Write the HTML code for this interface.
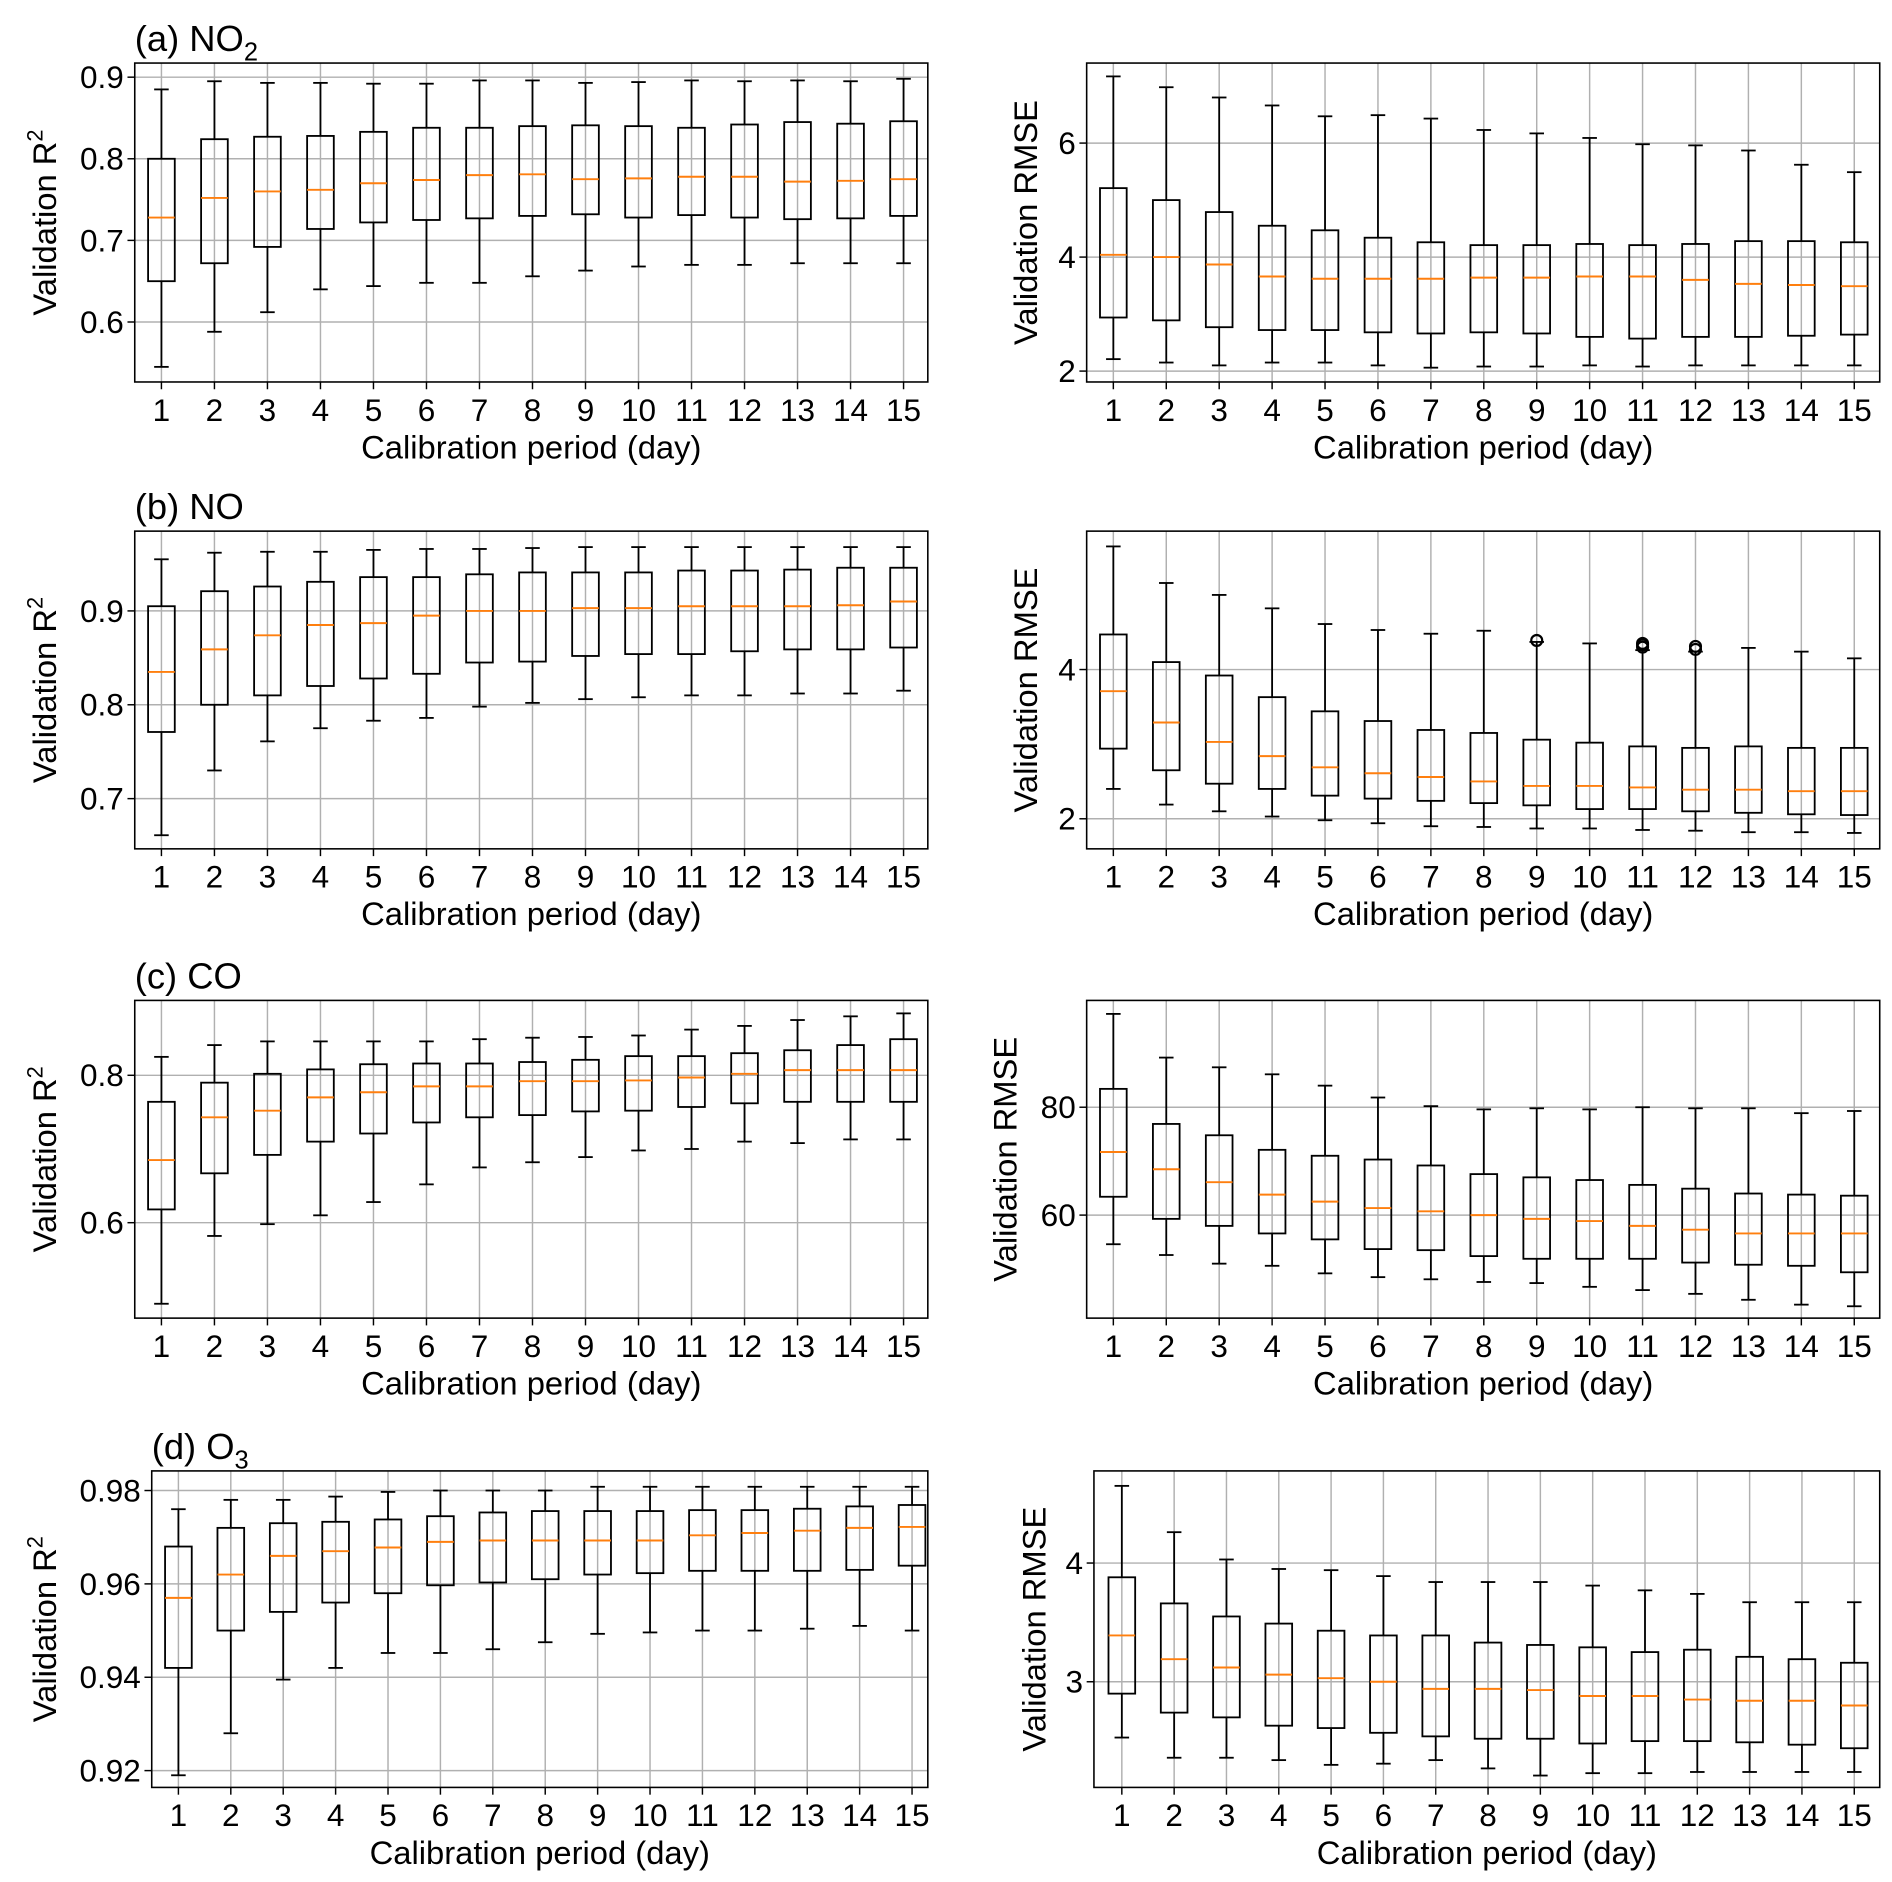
<!DOCTYPE html>
<html><head><meta charset="utf-8"><style>
html,body{margin:0;padding:0;background:#fff;}
svg{display:block;font-family:"Liberation Sans",Arial,sans-serif;}
</style></head><body>
<svg id="fig" width="1892" height="1882" viewBox="0 0 1560 1552" xmlns="http://www.w3.org/2000/svg"></svg>
<script>
const categories = [1,2,3,4,5,6,7,8,9,10,11,12,13,14,15];
// each series: [low whisker, q1, median, q3, high whisker] per category
const no2R2 = [[.545,.65,.728,.80,.885],[.588,.672,.752,.824,.895],[.612,.692,.760,.827,.893],[.640,.714,.762,.828,.893],[.644,.722,.770,.833,.892],[.648,.725,.774,.838,.892],[.648,.727,.780,.838,.896],[.656,.730,.781,.840,.896],[.663,.732,.775,.841,.893],[.668,.728,.776,.840,.894],[.670,.731,.778,.838,.896],[.670,.728,.778,.842,.895],[.672,.726,.772,.845,.896],[.672,.727,.773,.843,.895],[.672,.730,.775,.846,.898]];
const no2RMSE = [[2.21,2.94,4.04,5.21,7.17],[2.15,2.89,4.0,5.0,6.98],[2.1,2.77,3.87,4.79,6.8],[2.15,2.72,3.66,4.55,6.66],[2.15,2.72,3.62,4.47,6.47],[2.1,2.68,3.62,4.34,6.49],[2.06,2.66,3.62,4.26,6.43],[2.08,2.68,3.64,4.21,6.23],[2.08,2.66,3.64,4.21,6.17],[2.1,2.6,3.66,4.23,6.09],[2.08,2.57,3.66,4.21,5.98],[2.1,2.6,3.6,4.23,5.96],[2.1,2.6,3.53,4.28,5.87],[2.1,2.62,3.51,4.28,5.62],[2.1,2.64,3.49,4.26,5.49]];
const noR2 = [[.661,.771,.835,.905,.955],[.730,.80,.859,.921,.962],[.761,.81,.874,.926,.963],[.775,.82,.885,.931,.963],[.783,.828,.887,.936,.965],[.786,.833,.895,.936,.966],[.798,.845,.90,.939,.966],[.802,.846,.90,.941,.967],[.806,.852,.903,.941,.968],[.808,.854,.903,.941,.968],[.81,.854,.905,.943,.968],[.81,.857,.905,.943,.968],[.812,.859,.905,.944,.968],[.812,.859,.906,.946,.968],[.815,.861,.91,.946,.968]];
const noRMSE = [[2.40,2.94,3.71,4.47,5.65],[2.19,2.65,3.29,4.1,5.16],[2.1,2.47,3.03,3.92,5.0],[2.03,2.40,2.84,3.63,4.82],[1.98,2.31,2.69,3.44,4.61],[1.94,2.27,2.61,3.31,4.53],[1.9,2.24,2.56,3.19,4.48],[1.89,2.21,2.5,3.15,4.52],[1.87,2.18,2.44,3.06,4.37],[1.87,2.13,2.44,3.02,4.35],[1.85,2.13,2.42,2.97,4.26],[1.84,2.10,2.39,2.95,4.24],[1.82,2.08,2.39,2.97,4.29],[1.82,2.06,2.37,2.95,4.24],[1.81,2.05,2.37,2.95,4.15]];
const noRMSEOutliers = [[],[],[],[],[],[],[],[],[4.39],[],[4.30,4.33,4.35],[4.27,4.31],[],[],[]];
const coR2 = [[.49,.618,.685,.764,.825],[.582,.667,.743,.79,.841],[.598,.692,.752,.802,.846],[.61,.71,.770,.808,.846],[.628,.721,.777,.815,.846],[.652,.736,.785,.816,.846],[.675,.743,.785,.816,.849],[.682,.746,.792,.818,.851],[.689,.751,.792,.821,.852],[.698,.752,.793,.826,.854],[.70,.757,.797,.826,.862],[.71,.762,.802,.83,.867],[.708,.764,.807,.834,.875],[.713,.764,.807,.841,.88],[.713,.764,.807,.849,.884]];
const coRMSE = [[54.6,63.4,71.7,83.4,97.3],[52.6,59.3,68.5,76.9,89.2],[51.0,58.0,66.1,74.8,87.4],[50.6,56.6,63.8,72.1,86.1],[49.2,55.5,62.5,71.0,84.0],[48.5,53.7,61.3,70.3,81.8],[48.1,53.5,60.7,69.2,80.2],[47.6,52.4,60.0,67.6,79.6],[47.4,51.9,59.3,67.0,79.8],[46.7,51.9,58.9,66.5,79.6],[46.1,51.9,58.0,65.6,80.0],[45.4,51.2,57.3,64.9,79.8],[44.3,50.8,56.6,64.0,79.8],[43.4,50.6,56.6,63.8,78.9],[43.1,49.4,56.6,63.6,79.3]];
const o3R2 = [[.919,.942,.957,.968,.976],[.928,.950,.962,.972,.978],[.9395,.954,.966,.973,.978],[.942,.956,.967,.9733,.9787],[.9452,.958,.9678,.9738,.9797],[.9452,.9597,.969,.9745,.980],[.946,.9603,.9693,.9753,.980],[.9475,.961,.9693,.9756,.980],[.9493,.962,.9693,.9756,.9808],[.9496,.9623,.9693,.9756,.9808],[.950,.9628,.9704,.9758,.9808],[.950,.9628,.9709,.9758,.9808],[.9504,.9628,.9714,.9761,.9808],[.951,.963,.972,.9766,.9808],[.950,.9639,.9722,.9769,.9808]];
const o3RMSE = [[2.53,2.9,3.39,3.88,4.65],[2.36,2.74,3.19,3.66,4.26],[2.36,2.70,3.12,3.55,4.03],[2.34,2.63,3.06,3.49,3.95],[2.30,2.61,3.03,3.43,3.94],[2.31,2.57,3.0,3.39,3.89],[2.34,2.54,2.94,3.39,3.84],[2.27,2.52,2.94,3.33,3.84],[2.21,2.52,2.93,3.31,3.84],[2.23,2.48,2.88,3.29,3.81],[2.23,2.50,2.88,3.25,3.77],[2.24,2.50,2.85,3.27,3.74],[2.24,2.49,2.84,3.21,3.67],[2.24,2.47,2.84,3.19,3.67],[2.24,2.44,2.80,3.16,3.67]];
const ticksNo2R2 = ["0.6","0.7","0.8","0.9"];
const ticksNo2RMSE = ["2","4","6"];
const ticksNoR2 = ["0.7","0.8","0.9"];
const ticksNoRMSE = ["2","4"];
const ticksCoR2 = ["0.6","0.8"];
const ticksCoRMSE = ["60","80"];
const ticksO3R2 = ["0.92","0.94","0.96","0.98"];
const ticksO3RMSE = ["3","4"];

const NS="http://www.w3.org/2000/svg";
const svg=document.getElementById('fig');
function mk(tag,attrs,parent){const e=document.createElementNS(NS,tag);for(const k in attrs)e.setAttribute(k,attrs[k]);(parent||svg).appendChild(e);return e;}

function panel(cfg){
  const g=mk('g',{});
  
  
  const {L,R,T,B,x1,x15,ymin,ymax}=cfg;
  const xs=c=>x1+(c-1)*(x15-x1)/14;
  const ys=v=>B-(v-ymin)/(ymax-ymin)*(B-T);
  categories.forEach(c=>{const l=mk('line',{x1:xs(c),x2:xs(c),y1:T,y2:B,stroke:'#b0b0b0','stroke-width':1.2},g);
    
    });
  cfg.ticks.forEach(t=>{const v=parseFloat(t);const y=ys(v);
    const l=mk('line',{x1:L,x2:R,y1:y,y2:y,stroke:'#b0b0b0','stroke-width':1.2},g);
    
    
    mk('line',{x1:L-6,x2:L,y1:y,y2:y,stroke:'#000','stroke-width':1.2},g);
    const tx=mk('text',{x:L-9,y:y+9,'text-anchor':'end','font-size':26},g);tx.textContent=t;
    
    });
  cfg.data.forEach((d,i)=>{const c=categories[i];const x=xs(c);const hw=11,cw=6;
    const bg=mk('g',{},g);
    
    
    mk('line',{x1:x,x2:x,y1:ys(d[0]),y2:ys(d[1]),stroke:'#000','stroke-width':1.5},bg);
    mk('line',{x1:x,x2:x,y1:ys(d[3]),y2:ys(d[4]),stroke:'#000','stroke-width':1.5},bg);
    mk('line',{x1:x-cw,x2:x+cw,y1:ys(d[0]),y2:ys(d[0]),stroke:'#000','stroke-width':1.5},bg);
    mk('line',{x1:x-cw,x2:x+cw,y1:ys(d[4]),y2:ys(d[4]),stroke:'#000','stroke-width':1.5},bg);
    mk('rect',{x:x-hw,y:ys(d[3]),width:2*hw,height:ys(d[1])-ys(d[3]),fill:'none',stroke:'#000','stroke-width':1.5},bg);
    const m=mk('line',{x1:x-hw,x2:x+hw,y1:ys(d[2]),y2:ys(d[2]),stroke:'#ff7f0e','stroke-width':1.6},bg);
    
    
    if(cfg.outliers)cfg.outliers[i].forEach(o=>{const ci=mk('circle',{cx:x,cy:ys(o),r:4.5,fill:'none',stroke:'#000','stroke-width':1.8},bg);
      
      });
  });
  categories.forEach(c=>{mk('line',{x1:xs(c),x2:xs(c),y1:B,y2:B+6,stroke:'#000','stroke-width':1.2},g);
    const t=mk('text',{x:xs(c),y:B+32,'text-anchor':'middle','font-size':26},g);t.textContent=c;
    
    });
  const fr=mk('rect',{x:L,y:T,width:R-L,height:B-T,fill:'none',stroke:'#000','stroke-width':1.3},g);
  
  
  const xl=mk('text',{x:(L+R)/2,y:B+63,'text-anchor':'middle','font-size':27},g);xl.textContent='Calibration period (day)';
  
  
  const cy=(T+B)/2;
  const yl=mk('text',{x:cfg.ylx,y:cy,'text-anchor':'middle','font-size':27,transform:`rotate(-90 ${cfg.ylx} ${cy})`},g);
  
  
  if(cfg.r2){yl.textContent='Validation R';const s=mk('tspan',{dy:-11,'font-size':18},yl);s.textContent='2';}
  else yl.textContent='Validation RMSE';
  if(cfg.title){const tt=mk('text',{x:L,y:T-10,'font-size':30},g);
    
    
    tt.textContent=cfg.title;if(cfg.sub){const s=mk('tspan',{dy:8,'font-size':21},tt);s.textContent=cfg.sub;}}
}
const rows=[{T:52,B:315},{T:438,B:700},{T:825,B:1087},{T:1213,B:1474}];
panel({name:'panel-a-no2-r2',L:111,R:765,x1:133,x15:745,...rows[0],ymin:0.5265,ymax:0.9173,ticks:ticksNo2R2,data:no2R2,r2:true,ylx:46,title:'(a) NO',sub:'2'});
panel({name:'panel-a-no2-rmse',L:896,R:1550,x1:918,x15:1529,...rows[0],ymin:1.809,ymax:7.404,ticks:ticksNo2RMSE,data:no2RMSE,ylx:855});
panel({name:'panel-b-no-r2',L:111,R:765,x1:133,x15:745,...rows[1],ymin:0.6465,ymax:0.985,ticks:ticksNoR2,data:noR2,r2:true,ylx:46,title:'(b) NO'});
panel({name:'panel-b-no-rmse',L:896,R:1550,x1:918,x15:1529,...rows[1],ymin:1.597,ymax:5.855,ticks:ticksNoRMSE,data:noRMSE,outliers:noRMSEOutliers,ylx:855});
panel({name:'panel-c-co-r2',L:111,R:765,x1:133,x15:745,...rows[2],ymin:0.4705,ymax:0.9016,ticks:ticksCoR2,data:coR2,r2:true,ylx:46,title:'(c) CO'});
panel({name:'panel-c-co-rmse',L:896,R:1550,x1:918,x15:1529,...rows[2],ymin:40.9,ymax:99.8,ticks:ticksCoRMSE,data:coRMSE,ylx:838});
panel({name:'panel-d-o3-r2',L:125,R:765,x1:147,x15:752,...rows[3],ymin:0.9164,ymax:0.9842,ticks:ticksO3R2,data:o3R2,r2:true,ylx:46,title:'(d) O',sub:'3'});
panel({name:'panel-d-o3-rmse',L:902,R:1550,x1:925,x15:1529,...rows[3],ymin:2.11,ymax:4.776,ticks:ticksO3RMSE,data:o3RMSE,ylx:862});
</script>
</body></html>
